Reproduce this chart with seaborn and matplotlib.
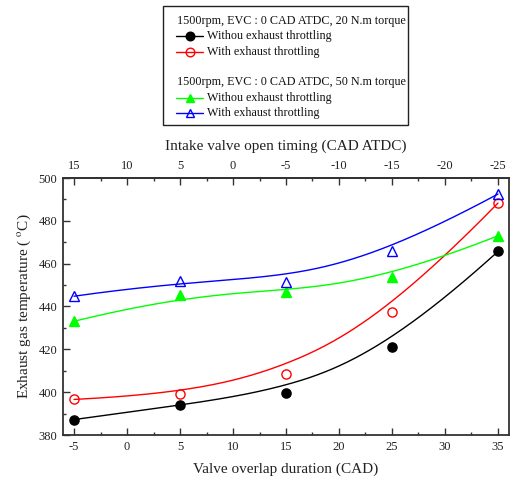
import numpy as np
import matplotlib
matplotlib.use("Agg")
import matplotlib.pyplot as plt
import seaborn as sns
from matplotlib.ticker import MultipleLocator

# Valve overlap duration (CAD) and exhaust gas temperature (deg C)
overlap = [-5, 5, 15, 25, 35]
t20_no_throttle = [387.2, 394.1, 399.4, 421.0, 465.7]
t20_throttle = [396.6, 399.2, 408.5, 437.6, 488.3]
t50_no_throttle = [433.1, 445.2, 446.6, 453.6, 473.0]
t50_throttle = [444.8, 451.8, 451.6, 466.0, 492.5]

intake_ticks = [15, 10, 5, 0, -5, -10, -15, -20, -25]

series_labels = ["Withou exhaust throttling", "With exhaust throttling"]
header_20 = "1500rpm, EVC : 0 CAD ATDC, 20 N.m torque"
header_50 = "1500rpm, EVC : 0 CAD ATDC, 50 N.m torque"

W, H = 517, 483
sns.set_theme(style="ticks")
plt.rcParams["font.family"] = ["Liberation Serif", "DejaVu Serif"]
plt.rcParams["mathtext.fontset"] = "stix"
plt.rcParams["axes.unicode_minus"] = False


def bspline(xp, yp, n=200):
    """Clamped cubic B-spline using the points as control polygon."""
    xp = np.asarray(xp, float)
    yp = np.asarray(yp, float)
    k = 3
    m = len(xp)
    inner = np.linspace(0, 1, m - k + 1)[1:-1]
    knots = np.concatenate([np.zeros(k + 1), inner, np.ones(k + 1)])
    t = np.linspace(0, 1, n)
    t[-1] = 1 - 1e-12

    def basis(i, p, tt):
        if p == 0:
            return np.where((knots[i] <= tt) & (tt < knots[i + 1]), 1.0, 0.0)
        out = np.zeros_like(tt)
        d1 = knots[i + p] - knots[i]
        d2 = knots[i + p + 1] - knots[i + 1]
        if d1 > 0:
            out += (tt - knots[i]) / d1 * basis(i, p - 1, tt)
        if d2 > 0:
            out += (knots[i + p + 1] - tt) / d2 * basis(i + 1, p - 1, tt)
        return out

    B = np.array([basis(i, k, t) for i in range(m)])
    return B.T @ xp, B.T @ yp


fig = plt.figure(figsize=(W / 100, H / 100), dpi=100)
ax = fig.add_axes([63 / W, 1 - 435 / H, (509 - 63) / W, (435 - 178) / H])

styles = [
    (t20_no_throttle, "black", "o", "black"),
    (t20_throttle, "red", "o", "none"),
    (t50_no_throttle, "#00ff00", "^", "#00ff00"),
    (t50_throttle, "blue", "^", "none"),
]

for ys, col, mk, fc in styles:
    sx, sy = bspline(overlap, ys)
    sns.lineplot(x=sx, y=sy, color=col, lw=1.0, sort=False, estimator=None, ax=ax)
    sns.lineplot(x=overlap, y=ys, color=col, linestyle="none", marker=mk,
                 markersize=6.6 if mk == "o" else 7.2, markerfacecolor=fc,
                 markeredgecolor=col, markeredgewidth=1.0,
                 estimator=None, sort=False, ax=ax)

ax.set_xlim(-6.04, 36.04)
ax.set_ylim(380, 500)
ax.xaxis.set_major_locator(MultipleLocator(5))
ax.xaxis.set_minor_locator(MultipleLocator(2.5))
ax.yaxis.set_major_locator(MultipleLocator(20))
ax.yaxis.set_minor_locator(MultipleLocator(10))

spine_col = "#333333"
for s in ax.spines.values():
    s.set_color(spine_col)
    s.set_linewidth(1.3)
ax.tick_params(which="both", direction="in", color=spine_col, width=1.0,
               labelsize=9, labelcolor="#222222", pad=4)
ax.tick_params(which="major", length=5)
ax.tick_params(which="minor", length=2.5)
ax.tick_params(right=False, top=False)

ax.set_xlabel("Valve overlap duration (CAD)", fontsize=11, color="#222222", labelpad=7)
ax.set_ylabel("Exhaust gas temperature ( $^{\\rm o}$C)", fontsize=11, color="#222222", labelpad=4)

top = ax.secondary_xaxis("top", functions=(lambda v: 10 - v, lambda v: 10 - v))
top.set_xticks(intake_ticks)
top.xaxis.set_minor_locator(MultipleLocator(2.5))
top.tick_params(which="both", direction="in", color=spine_col, width=1.0,
                labelsize=9, labelcolor="#222222", pad=4)
top.tick_params(which="major", length=5)
top.tick_params(which="minor", length=2.5)
top.spines["top"].set_color(spine_col)
top.spines["top"].set_linewidth(1.3)
top.set_xlabel("Intake valve open timing (CAD ATDC)", fontsize=11, color="#222222", labelpad=8)

# Legend box drawn on a full-figure overlay in pixel units
lax = fig.add_axes([0, 0, 1, 1])
lax.set_xlim(0, W)
lax.set_ylim(H, 0)
lax.axis("off")
lax.add_patch(plt.Rectangle((163, 6), 245, 119, fill=False, ec="#222222", lw=1.0))

fs = 8.7
lax.text(177, 21, header_20, fontsize=fs, va="center", ha="left", color="#111111")
lax.text(177, 82, header_50, fontsize=fs, va="center", ha="left", color="#111111")
rows = [
    (36, "black", "o", "black", series_labels[0]),
    (52, "red", "o", "none", series_labels[1]),
    (98, "#00ff00", "^", "#00ff00", series_labels[0]),
    (113, "blue", "^", "none", series_labels[1]),
]
for y, col, mk, fc, lab in rows:
    lax.plot([176, 203], [y, y], color=col, lw=1.0)
    lax.plot([189.5], [y], marker=mk, color=col, markerfacecolor=fc,
             markeredgecolor=col, markersize=6.2, markeredgewidth=1.0)
    lax.text(207, y, lab, fontsize=fs, va="center", ha="left", color="#111111")

fig.savefig("out.png", dpi=100)
